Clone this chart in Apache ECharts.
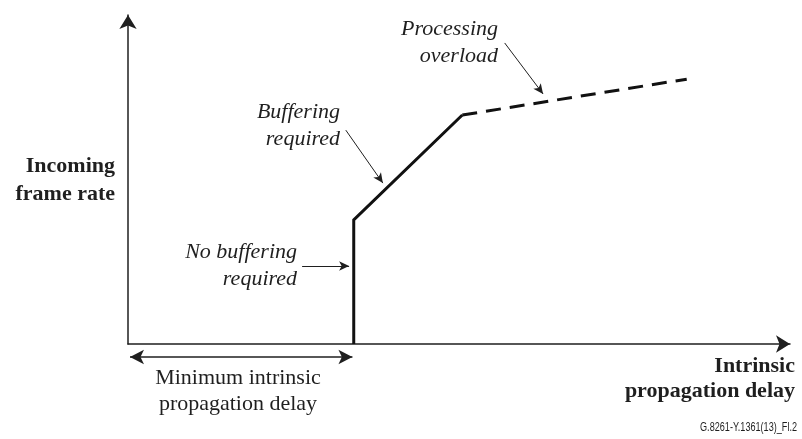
<!DOCTYPE html>
<html>
<head>
<meta charset="utf-8">
<script src="https://cdn.jsdelivr.net/npm/echarts@6/dist/echarts.min.js"></script>
<style>
  html, body { margin: 0; padding: 0; background: #fff; }
  #main { width: 802px; height: 439px; }
</style>
</head>
<body>
<div id="main"></div>
<script>
var chart = echarts.init(document.getElementById('main'));

// curve: delay (x) vs frame rate (y), both in 0..100 units
var solidCurve = [[34.1, 0], [34.1, 37.7], [50.5, 69.6]];
var dashedCurve = [[50.5, 69.6], [84.4, 80.5]];

// annotation arrows [from, to]
var bufferingArrow = [[32.9, 65.0], [38.5, 48.9]];
var overloadArrow = [[56.9, 91.5], [62.7, 76.0]];
var noBufferingArrow = [[26.3, 23.7], [33.4, 23.7]];
// span below the axis: 0 .. minimum intrinsic delay
var minDelaySpan = [[0.3, 0.5], [33.9, 0.5]];

var serif = "'Liberation Serif', 'Times New Roman', serif";
var ink = '#1f1f1f';

function arrowLine(pair, symbols, size) {
  return [
    { coord: pair[0], symbol: symbols[0], symbolSize: size },
    { coord: pair[1], symbol: symbols[1], symbolSize: size }
  ];
}

function label(x, y, text, opts) {
  return {
    type: 'text',
    x: x,
    y: y,
    scaleX: opts.scaleX || 1,
    style: {
      text: text,
      fill: ink,
      font: opts.font,
      textAlign: opts.align || 'right',
      textVerticalAlign: 'middle',
      lineHeight: opts.lineHeight || 27
    },
    silent: true
  };
}

var hiddenAxis = {
  axisLine: { show: false }, axisTick: { show: false },
  axisLabel: { show: false }, splitLine: { show: false }
};

var option = {
  animation: false,
  backgroundColor: '#fff',
  grid: [
    { left: 128, right: 12, top: 15, bottom: 95 },
    { left: 128, right: 12, top: 344, height: 26 }
  ],
  xAxis: [
    {
      type: 'value', min: 0, max: 100,
      axisLine: {
        show: true, symbol: ['none', 'arrow'], symbolSize: [13, 14],
        lineStyle: { color: ink, width: 1.5 }
      },
      axisTick: { show: false }, axisLabel: { show: false }, splitLine: { show: false }
    },
    Object.assign({ type: 'value', min: 0, max: 100, gridIndex: 1 }, hiddenAxis)
  ],
  yAxis: [
    {
      type: 'value', min: 0, max: 100,
      axisLine: {
        show: true, symbol: ['none', 'arrow'], symbolSize: [13, 14],
        lineStyle: { color: ink, width: 1.5 }
      },
      axisTick: { show: false }, axisLabel: { show: false }, splitLine: { show: false }
    },
    Object.assign({ type: 'value', min: 0, max: 1, gridIndex: 1 }, hiddenAxis)
  ],
  series: [
    {
      type: 'line',
      data: solidCurve,
      showSymbol: false,
      lineStyle: { color: '#111', width: 3, join: 'miter' },
      markLine: {
        silent: true,
        animation: false,
        label: { show: false },
        lineStyle: { color: ink, width: 1, type: 'solid' },
        data: [
          arrowLine(bufferingArrow, ['none', 'arrow'], [7, 10]),
          arrowLine(overloadArrow, ['none', 'arrow'], [7, 10]),
          arrowLine(noBufferingArrow, ['none', 'arrow'], [7, 10])
        ]
      }
    },
    {
      type: 'line',
      data: dashedCurve,
      showSymbol: false,
      lineStyle: { color: '#111', width: 3, type: [15, 9] }
    },
    {
      type: 'line',
      xAxisIndex: 1,
      yAxisIndex: 1,
      data: [],
      markLine: {
        silent: true,
        animation: false,
        label: { show: false },
        lineStyle: { color: ink, width: 1.5, type: 'solid' },
        data: [arrowLine(minDelaySpan, ['arrow', 'arrow'], [11, 14])]
      }
    }
  ],
  graphic: [
    label(115, 180, 'Incoming\nframe rate', { font: 'bold 22px ' + serif, lineHeight: 28 }),
    label(795, 379, 'Intrinsic\npropagation delay', { font: 'bold 22px ' + serif, lineHeight: 25 }),
    label(238, 391, 'Minimum intrinsic\npropagation delay', { font: '22px ' + serif, align: 'center', lineHeight: 26 }),
    label(498, 43, 'Processing\noverload', { font: 'italic 22px ' + serif }),
    label(340, 126, 'Buffering\nrequired', { font: 'italic 22px ' + serif }),
    label(297, 266, 'No buffering\nrequired', { font: 'italic 22px ' + serif }),
    label(797, 427, 'G.8261-Y.1361(13)_Fl.2', { font: "13px 'Liberation Sans', Arial, sans-serif", scaleX: 0.7 })
  ]
};

chart.setOption(option);
</script>
</body>
</html>
